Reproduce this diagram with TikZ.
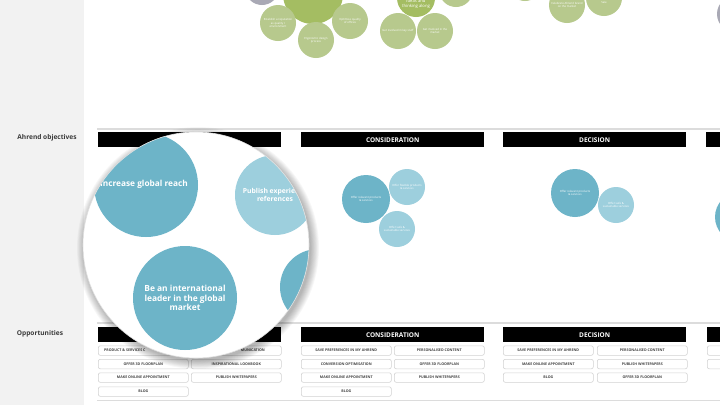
\documentclass[tikz,border=0pt]{standalone}
\usepackage{fontspec}
\setmainfont{Open Sans}
\definecolor{panel}{HTML}{F2F2F2}
\definecolor{rule}{HTML}{DCDCDC}
\definecolor{tealdark}{HTML}{6DB4C8}
\definecolor{teallight}{HTML}{9DCFDD}
\definecolor{greensmall}{HTML}{B7C98D}
\definecolor{greenbig}{HTML}{A4BD62}
\definecolor{greymid}{HTML}{A9A9B5}
\definecolor{labeltext}{HTML}{3A3A3A}
\definecolor{pillline}{HTML}{D2D2D2}
\definecolor{pilltext}{HTML}{454545}
\tikzset{
  bar/.style={fill=black, minimum width=183pt, minimum height=15pt, inner sep=0pt,
    text=white, font=\fontsize{6.5}{7}\selectfont\bfseries, anchor=north west},
  pill/.style={draw=pillline, fill=white, rounded corners=2pt, line width=0.6pt,
    minimum width=90pt, minimum height=9.5pt, inner sep=0pt, anchor=north west,
    font=\fontsize{3.6}{4}\selectfont\bfseries, text=pilltext},
  bub/.style={circle, inner sep=0pt, text=white, align=center},
  tiny/.style={font=\fontsize{2.8}{3.2}\selectfont},
  sidelabel/.style={text=labeltext, font=\fontsize{6.6}{7}\selectfont\bfseries},
  ruleline/.style={draw=rule, line width=1.2pt}
}
\begin{document}
\begin{tikzpicture}[x=1pt,y=-1pt]
\useasboundingbox (0,0) rectangle (720,405);
\fill[white] (0,0) rectangle (720,405);
\fill[panel] (0,0) rectangle (84,405);

% side labels
\node[sidelabel] (lobj) at (47,138) {Ahrend objectives};
\node[sidelabel] (lopp) at (40,334) {Opportunities};

% top green clusters
\node[bub, fill=greymid, minimum size=34pt] (g1) at (262,-12) {};
\node[bub, fill=greenbig, minimum size=60pt] (gb) at (313,-6) {};
\node[bub, fill=greensmall, minimum size=36pt, tiny] (gs1) at (278,23) {Establish a reputation\\as quality /\\environment};
\node[bub, fill=greensmall, minimum size=36pt, tiny] (gs2) at (316,40) {Ergonomic design\\process};
\node[bub, fill=greensmall, minimum size=36pt, tiny] (gs3) at (350,21) {Optimise quality\\of offices};
\node[bub, fill=greenbig, minimum size=38pt] (gi) at (416,-2) {};
\node[text=white, align=center, inner sep=0pt, font=\fontsize{4.2}{4.6}\selectfont] (git) at (416,4.2) {Ideas and\\thinking along};
\node[bub, fill=greensmall, minimum size=34pt] (gt) at (456,-10) {};
\node[bub, fill=greensmall, minimum size=36pt, tiny] (gk1) at (398,31) {Get involved in key stuff};
\node[bub, fill=greensmall, minimum size=36pt, tiny] (gk2) at (435,31) {Get involved in the\\market};
\node[bub, fill=greensmall, minimum size=34pt] (gx) at (525,-16) {};
\node[bub, fill=greensmall, minimum size=36pt, tiny] (gc) at (567,5) {Celebrate Ahrend brand\\on the market};
\node[bub, fill=greensmall, minimum size=36pt] (gd) at (604,-2) {};
\node[text=white, inner sep=0pt, tiny] (gdt) at (604,2.5) {Sale};
\node[bub, fill=greymid, minimum size=36pt] (gr) at (735,14) {};

% rules
\draw[ruleline] (97,129) -- (720,129);
\draw[ruleline] (97,323) -- (720,323);
\draw[ruleline] (97,400.5) -- (720,400.5);

% top bars
\node[bar] (t1) at (98,132) {AWARENESS};
\node[bar] (t2) at (301,132) {CONSIDERATION};
\node[bar] (t3) at (503,132) {DECISION};
\node[bar] (t4) at (706,132) {};

% consideration bubbles
\node[bub, fill=tealdark, minimum size=48pt, tiny] (c1) at (366,199) {Offer relevant products\\\& services};
\node[bub, fill=teallight, minimum size=36pt, tiny] (c2) at (407,187) {Offer flexible products\\\& services};
\node[bub, fill=teallight, minimum size=36pt, tiny] (c3) at (397,229) {Offer safe \&\\sustainable services};
% decision bubbles
\node[bub, fill=tealdark, minimum size=48pt, tiny] (d1) at (575,193) {Offer relevant products\\\& services};
\node[bub, fill=teallight, minimum size=36pt, tiny] (d2) at (616,205) {Offer safe \&\\sustainable services};
\node[bub, fill=tealdark, minimum size=50pt] (e1) at (740,217) {};

% bottom bars
\node[bar] (b1) at (98,327) {};
\node[bar] (b2) at (301,327) {CONSIDERATION};
\node[bar] (b3) at (503,327) {DECISION};
\node[bar] (b4) at (707,327) {};

% awareness pills
\node[pill] (a11) at (98,345.5) {};
\node[pill] (a12) at (191,345.5) {};
\node[pill] (a21) at (98,359) {OFFER 3D FLOORPLAN};
\node[pill] (a22) at (191,359) {INSPIRATIONAL LOOKBOOK};
\node[pill] (a31) at (98,372.5) {MAKE ONLINE APPOINTMENT};
\node[pill] (a32) at (191,372.5) {PUBLISH WHITEPAPERS};
\node[pill] (a41) at (98,386.5) {BLOG};
\node[anchor=west, inner sep=0pt, font=\fontsize{3.6}{4}\selectfont\bfseries, text=pilltext] (a11t) at (104,350.3) {PRODUCT \& SERVICES C};
\node[anchor=east, inner sep=0pt, font=\fontsize{3.6}{4}\selectfont\bfseries, text=pilltext] (a12t) at (265,350.3) {MUNICATION};

% consideration pills
\node[pill] (c11) at (301,345.5) {SAVE PREFERENCES IN MY AHREND};
\node[pill] (c12) at (394,345.5) {PERSONALISED CONTENT};
\node[pill] (c21) at (301,359) {CONVERSION OPTIMISATION};
\node[pill] (c22) at (394,359) {OFFER 3D FLOORPLAN};
\node[pill] (c31) at (301,372.5) {MAKE ONLINE APPOINTMENT};
\node[pill] (c32) at (394,372.5) {PUBLISH WHITEPAPERS};
\node[pill] (c41) at (301,386.5) {BLOG};

% decision pills
\node[pill] (d11) at (503,345.5) {SAVE PREFERENCES IN MY AHREND};
\node[pill] (d12) at (597,345.5) {PERSONALISED CONTENT};
\node[pill] (d21) at (503,359) {MAKE ONLINE APPOINTMENT};
\node[pill] (d22) at (597,359) {PUBLISH WHITEPAPERS};
\node[pill] (d31) at (503,372.5) {BLOG};
\node[pill] (d32) at (597,372.5) {OFFER 3D FLOORPLAN};
\node[pill] (e11) at (707,345.5) {};
\node[pill] (e21) at (707,359) {};

% magnifier shadow
\foreach \i in {1,...,10}{
  \fill[black, opacity=0.03] (198,248) circle ({112pt+\i*0.9pt});
}
\fill[white] (196,245) circle (113pt);
\begin{scope}
  \clip (196,245) circle (113pt);
  \node[bub, fill=tealdark, minimum size=104pt] (m1) at (146,185) {};
  \node[text=white, inner sep=0pt, font=\fontsize{8.3}{10}\selectfont\bfseries] (m1t) at (144,184) {Increase global reach};
  \node[bub, fill=teallight, minimum size=80pt, font=\fontsize{6.8}{8}\selectfont\bfseries] (m2) at (275,195) {Publish experience\\references};
  \node[bub, fill=tealdark, minimum size=104pt, font=\fontsize{8.4}{9.6}\selectfont\bfseries] (m3) at (185,298) {Be an international\\leader in the global\\market};
  \node[bub, fill=tealdark, minimum size=76pt] (m4) at (318,287) {};
\end{scope}
\draw[black!12, line width=0.6pt] (196,245) circle (113pt);
\end{tikzpicture}
\end{document}
